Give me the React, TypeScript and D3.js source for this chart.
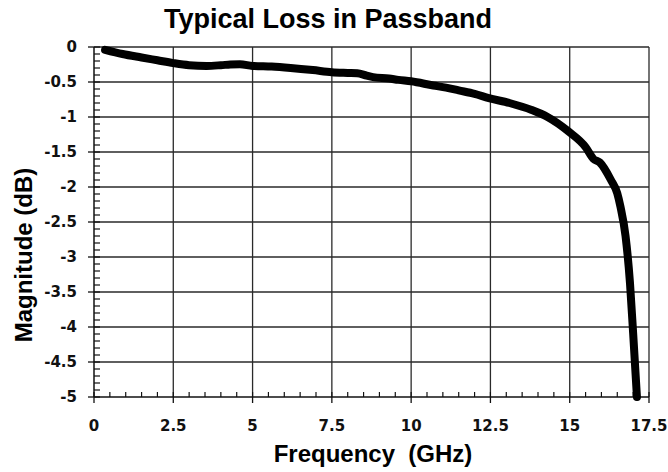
import React from "react";
import * as d3 from "d3";

const freqGHz = [0.35, 0.9, 1.5, 2.0, 2.5, 3.0, 3.55, 4.0, 4.3, 4.6, 5.0, 5.6, 6.2, 6.9, 7.5, 8.0, 8.3, 8.6, 8.8, 9.3, 9.6, 10.0, 10.7, 11.1, 11.5, 12.0, 12.45, 13.1, 13.8, 14.3, 14.97, 15.5, 15.75, 15.95, 16.3, 16.5, 16.6, 16.76, 16.9, 17.0, 17.12];
const lossDb = [-0.04, -0.1, -0.15, -0.19, -0.23, -0.26, -0.27, -0.26, -0.25, -0.245, -0.27, -0.28, -0.3, -0.33, -0.36, -0.37, -0.375, -0.41, -0.43, -0.45, -0.47, -0.49, -0.55, -0.58, -0.62, -0.67, -0.73, -0.8, -0.9, -1.0, -1.21, -1.43, -1.6, -1.65, -1.9, -2.09, -2.28, -2.7, -3.37, -4.09, -5.0];
const xTicks = [0, 2.5, 5, 7.5, 10, 12.5, 15, 17.5];
const yTicks = [0, -0.5, -1, -1.5, -2, -2.5, -3, -3.5, -4, -4.5, -5];
const xMinor = d3.range(0, 17.5001, 0.5);
const yMinor = d3.range(0, -5.0001, -0.1);
const title = "Typical Loss in Passband";
const xTitle = "Frequency  (GHz)";
const yTitle = "Magnitude (dB)";

const W = 668, H = 472;
const L = 94, R = 649, T = 47, B = 397;

export default function App() {
  const x = d3.scaleLinear().domain([0, 17.5]).range([L, R]);
  const y = d3.scaleLinear().domain([0, -5]).range([T, B]);
  const pts = freqGHz.map((f, i) => [f, lossDb[i]] as [number, number]);
  const line = d3.line<[number, number]>().x(d => x(d[0])).y(d => y(d[1])).curve(d3.curveMonotoneX);
  const labelFont = "'DejaVu Sans', Verdana, sans-serif";
  const titleFont = "'Liberation Sans', Arial, sans-serif";
  return (
    <svg width={W} height={H} style={{ position: "absolute", left: 0, top: 0, background: "#fff" }}>
      <rect x={0} y={0} width={W} height={H} fill="#fff" />
      {xTicks.slice(1).map(t => (
        <line key={"gx" + t} x1={x(t)} x2={x(t)} y1={T} y2={B} stroke="#2a2a2a" strokeWidth={1.3} />
      ))}
      {yTicks.slice(0, -1).map(t => (
        <line key={"gy" + t} x1={L} x2={R} y1={y(t)} y2={y(t)} stroke="#2a2a2a" strokeWidth={1.3} />
      ))}
      {xMinor.map(t => (
        <line key={"mx" + t} x1={x(t)} x2={x(t)} y1={B} y2={B - 5} stroke="#111" strokeWidth={1.2} />
      ))}
      {yMinor.map(t => (
        <line key={"my" + t} x1={L} x2={L + 6} y1={y(t)} y2={y(t)} stroke="#111" strokeWidth={1.2} />
      ))}
      {xTicks.map(t => (
        <line key={"Mx" + t} x1={x(t)} x2={x(t)} y1={B} y2={B + 6} stroke="#111" strokeWidth={1.3} />
      ))}
      {yTicks.map(t => (
        <line key={"My" + t} x1={L - 6} x2={L} y1={y(t)} y2={y(t)} stroke="#111" strokeWidth={1.3} />
      ))}
      <line x1={L} x2={L} y1={T} y2={B} stroke="#111" strokeWidth={1.5} />
      <line x1={L} x2={R} y1={B} y2={B} stroke="#111" strokeWidth={1.5} />
      <path d={line(pts) || ""} fill="none" stroke="#000" strokeWidth={8} strokeLinejoin="round" strokeLinecap="round" />
      {xTicks.map(t => (
        <text key={"lx" + t} x={x(t)} y={431} textAnchor="middle" fontFamily={labelFont} fontWeight="bold" fontSize={15} fill="#111">
          {String(t)}
        </text>
      ))}
      {yTicks.map(t => (
        <text key={"ly" + t} x={77} y={y(t)} dy="0.36em" textAnchor="end" fontFamily={labelFont} fontWeight="bold" fontSize={15} fill="#111">
          {String(t)}
        </text>
      ))}
      <text x={328} y={28} textAnchor="middle" fontFamily={titleFont} fontWeight="bold" fontSize={27} fill="#000">{title}</text>
      <text x={373} y={462} textAnchor="middle" fontFamily={titleFont} fontWeight="bold" fontSize={24} fill="#000" style={{ whiteSpace: "pre" }}>{xTitle}</text>
      <text transform="translate(32,255) rotate(-90)" textAnchor="middle" fontFamily={titleFont} fontWeight="bold" fontSize={24} fill="#000">{yTitle}</text>
    </svg>
  );
}
